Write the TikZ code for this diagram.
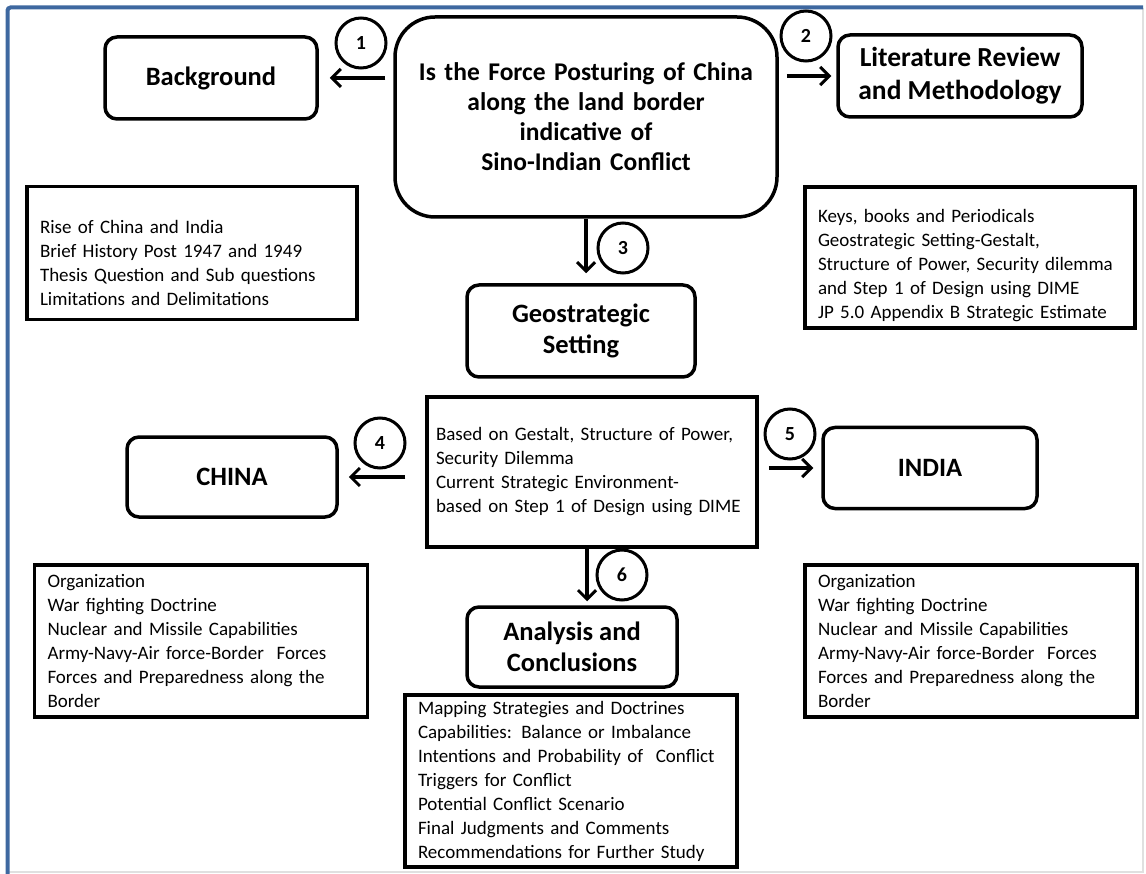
\documentclass[tikz,border=0pt]{standalone}
\usepackage{fontspec}
\setmainfont{Carlito}
\usetikzlibrary{arrows.meta,positioning,calc}

\definecolor{frameblue}{RGB}{62,104,160}
\newcommand\headfont{\fontsize{26.5}{31}\selectfont\bfseries}
\newcommand\listfont{\fontsize{19}{24}\selectfont}
\newcommand\numfont{\fontsize{20}{22}\selectfont\bfseries}
\newcommand\toppad[1]{\rule{0pt}{#1}}

\begin{document}
\begin{tikzpicture}[x=1pt,y=-1pt,
        head/.style={draw,line width=3.5pt,rounded corners=12pt,align=center,font=\headfont,inner sep=0pt},
        listbox/.style={draw,line width=3.5pt,align=left,font=\listfont,inner xsep=13pt,inner ysep=0pt},
        num/.style={circle,draw,line width=3pt,minimum size=50pt,inner sep=0pt,font=\numfont},
        link/.style={line width=3.5pt,-{Straight Barb[length=9pt,width=18pt,line width=3pt]}}]
        \useasboundingbox (0,0) rectangle (1146,874);
        % frame
        \draw[black!12,line width=1.5pt] (1143,8) -- (1143,872) -- (8,872);
        \draw[frameblue,line width=4pt,rounded corners=3pt] (1143,7.5) -- (7.5,7.5) -- (7.5,874);
        % top row
        \node[head,minimum width=382pt,minimum height=200pt,rounded corners=40pt,text width=370pt,
              font=\fontsize{25.5}{30}\selectfont\bfseries] (q) at (586,117)
          {Is the Force Posturing of China\\ along the land border\\ indicative of\\ Sino-Indian Conflict};
        \node[head,minimum width=212pt,minimum height=82pt] (bg) at (211,78) {Background};
        \node[head,minimum width=244pt,minimum height=82pt,font=\fontsize{27.5}{33}\selectfont\bfseries] (lit) at (960,76)
          {Literature Review\\ and Methodology};
        \node[listbox,text width=304pt,minimum height=133pt] (bgtext) at (192,253)
          {\toppad{34pt}Rise of China and India\\ Brief History Post 1947 and 1949\\ Thesis Question and Sub questions\\ Limitations and Delimitations};
        \node[listbox,text width=304pt,minimum height=141pt] (littext) at (970,257.5)
          {\toppad{29pt}Keys, books and Periodicals\\ Geostrategic Setting-Gestalt,\\ Structure of Power, Security dilemma\\ and Step 1 of Design using DIME\\ JP 5.0 Appendix B Strategic Estimate};
        % middle
        \node[head,minimum width=228pt,minimum height=92pt] (geo) at (581,331) {Geostrategic\\ Setting};
        \node[listbox,text width=312pt,minimum height=150pt,inner xsep=9pt] (mid) at (592,472)
          {Based on Gestalt, Structure of Power,\\ Security Dilemma\\ Current Strategic Environment-\\ based on Step 1 of Design using DIME};
        \node[head,minimum width=210pt,minimum height=80pt] (china) at (232,477) {CHINA};
        \node[head,minimum width=214pt,minimum height=81pt] (india) at (930,468) {INDIA};
        \node[listbox,text width=307pt,minimum height=152pt] (chinatext) at (201,641)
          {Organization\\ War fighting Doctrine\\ Nuclear and Missile Capabilities\\ Army-Navy-Air force-Border~ Forces\\ Forces and Preparedness along the\\ Border};
        \node[listbox,text width=306pt,minimum height=152pt] (indiatext) at (971,641)
          {Organization\\ War fighting Doctrine\\ Nuclear and Missile Capabilities\\ Army-Navy-Air force-Border~ Forces\\ Forces and Preparedness along the\\ Border};
        % bottom
        \node[head,minimum width=210pt,minimum height=80pt] (ana) at (572,647) {Analysis and\\ Conclusions};
        \node[listbox,text width=306pt,minimum height=172pt] (anatext) at (571,781)
          {Mapping Strategies and Doctrines\\ Capabilities: Balance or Imbalance\\ Intentions and Probability of~ Conflict\\ Triggers for Conflict\\ Potential Conflict Scenario\\ Final Judgments and Comments\\ Recommendations for Further Study};
        % step numbers
        \node[num] (n1) at (361,43)  {1};
        \node[num] (n2) at (806,36)  {2};
        \node[num] (n3) at (623,248) {3};
        \node[num] (n4) at (380,443) {4};
        \node[num] (n5) at (790,434) {5};
        \node[num] (n6) at (622,575) {6};
        \coordinate (m6) at ([xshift=-5pt]mid.south);
        \path[link]
          (q.west |- bg.east)     edge[shorten <=8pt,shorten >=11pt] (bg.east)
          (q.east |- lit.west)    edge[shorten <=8pt,shorten >=5pt]  (lit.west)
          (q.south)               edge[shorten >=10pt]               (q.south |- geo.north)
          (mid.west |- china.east) edge[shorten <=20pt,shorten >=10pt] (china.east)
          (mid.east |- india.west) edge[shorten <=10pt,shorten >=8pt]  (india.west)
          (m6)                    edge[shorten >=4pt]                (m6 |- ana.north)
          ;
      \end{tikzpicture}
\end{document}
